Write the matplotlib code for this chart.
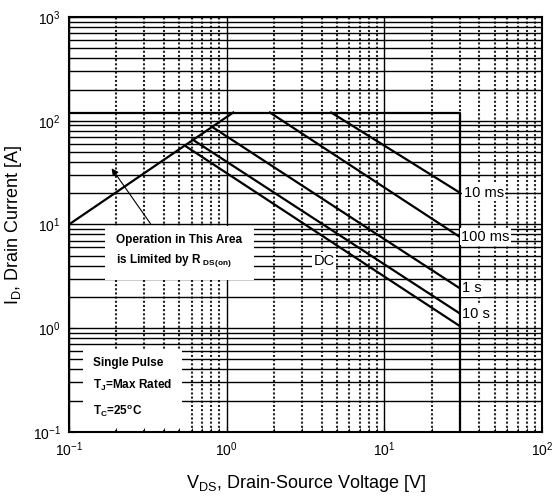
import matplotlib
matplotlib.use('Agg')
import matplotlib.pyplot as plt
from matplotlib.ticker import LogLocator, NullFormatter

plt.rcParams['font.family'] = ['Liberation Sans', 'DejaVu Sans']
plt.rcParams['mathtext.fontset'] = 'custom'
plt.rcParams['mathtext.rm'] = 'Liberation Sans'
plt.rcParams['mathtext.it'] = 'Liberation Sans'
plt.rcParams['mathtext.bf'] = 'Liberation Sans:bold'

# safe operating area
rds_v = [0.1, 1.1]
rds_i = [10, 120]
limit_v = [0.1, 30, 30]
limit_i = [120, 120, 0.1]
pulse_names = ['10 ms', '100 ms', '1 s', '10 s', 'DC']
pulse_v = [[4.6, 30], [1.88, 30], [0.805, 30], [0.614, 30], [0.543, 30]]
pulse_i = [[120, 20.3], [120, 7.6], [87.6, 2.43], [65.2, 1.39], [57.5, 1.05]]
# where each label sits
label_v = [31.8, 30.8, 31.2, 31.2, 3.55]
label_i = [20.3, 7.6, 2.43, 1.38, 4.45]

fig = plt.figure(figsize=(5.52, 5.01), dpi=100)
ax = fig.add_axes([0.125, 0.138, 0.857, 0.828])
ax.set_xscale('log')
ax.set_yscale('log')
ax.set_xlim(0.1, 100)
ax.set_ylim(0.1, 1000)

ax.xaxis.set_minor_locator(LogLocator(base=10, subs=range(2, 10)))
ax.yaxis.set_minor_locator(LogLocator(base=10, subs=range(2, 10)))
ax.xaxis.set_minor_formatter(NullFormatter())
ax.yaxis.set_minor_formatter(NullFormatter())
ax.tick_params(which='both', direction='in', labelsize=10, pad=6)
ax.tick_params(which='major', length=5)
ax.tick_params(which='minor', length=3)

ax.grid(which='major', axis='x', ls='-', lw=1.0, color='k')
ax.grid(which='minor', axis='x', ls=(0, (1, 1)), lw=1.5, color='#222222')
ax.grid(which='both', axis='y', ls='-', lw=1.0, color='k')
ax.set_axisbelow(True)
for sp in ax.spines.values():
    sp.set_linewidth(1.5)

ax.plot(rds_v, rds_i, color='k', lw=1.6)
ax.plot(limit_v, limit_i, color='k', lw=1.6)
for v, i in zip(pulse_v, pulse_i):
    ax.plot(v, i, color='k', lw=1.6)

box = dict(facecolor='white', edgecolor='none', pad=1)
for name, v, i in zip(pulse_names, label_v, label_i):
    ax.text(v, i, name, fontsize=10.5, va='center', ha='left', bbox=box, zorder=5)

ax.text(0.2, 5.5, 'Operation in This Area\nis Limited by R $_\\mathbf{DS(on)}$',
        fontsize=8.5, fontweight='bold', va='center', ha='left', linespacing=1.5,
        bbox=dict(facecolor='white', edgecolor='none', pad=8), zorder=5)
ax.annotate('', xy=(0.182, 36.6), xytext=(0.336, 9.7),
            arrowprops=dict(arrowstyle='-|>', color='k', lw=0.8, mutation_scale=10), zorder=6)

ax.text(0.142, 0.265, 'Single Pulse\nT$_\\mathbf{J}$=Max Rated\nT$_\\mathbf{C}$=25$^\\mathbf{o}$C',
        fontsize=8.5, fontweight='bold', va='center', ha='left', linespacing=1.8,
        bbox=dict(facecolor='white', edgecolor='none', pad=7), zorder=5)

ax.set_xlabel('V$_\\mathrm{DS}$, Drain-Source Voltage [V]', fontsize=13, labelpad=10)
ax.set_ylabel('I$_\\mathrm{D}$, Drain Current [A]', fontsize=13, labelpad=6)

fig.savefig('out.png', dpi=100)
